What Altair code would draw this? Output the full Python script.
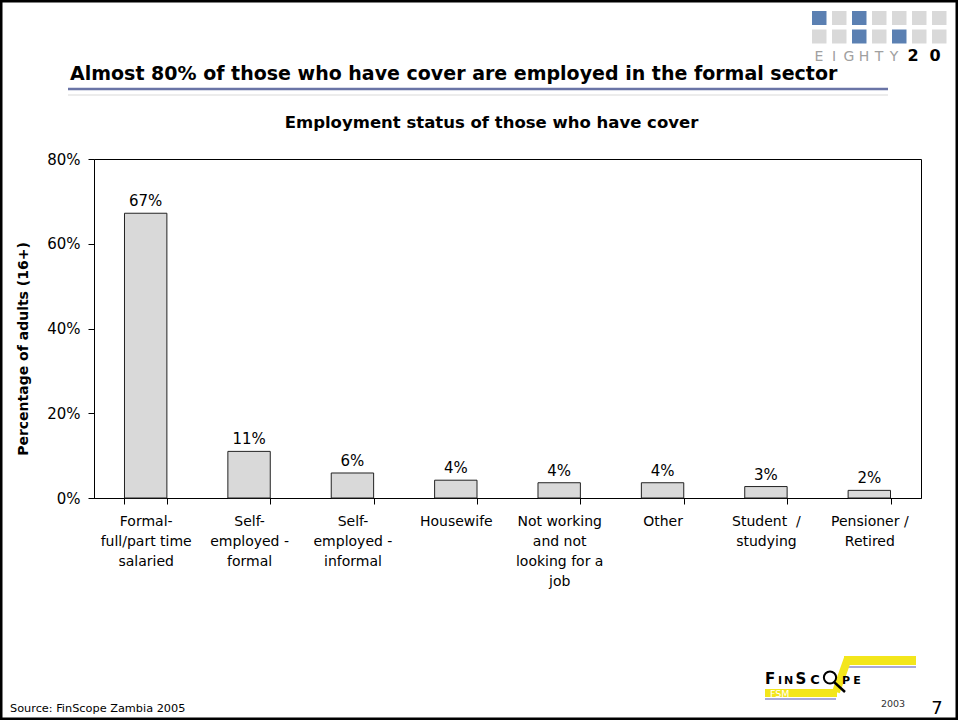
import altair as alt
import pandas as pd

# ---------------- data ----------------
categories = [
    "Formal-\nfull/part time\nsalaried",
    "Self-\nemployed -\nformal",
    "Self-\nemployed -\ninformal",
    "Housewife",
    "Not working\nand not\nlooking for a\njob",
    "Other",
    "Student\u00a0\u00a0/\nstudying",
    "Pensioner /\nRetired",
]
values = [67.2, 11.0, 5.9, 4.2, 3.6, 3.6, 2.7, 1.8]
y_ticks = [0, 20, 40, 60, 80]

title_text = "Almost 80% of those who have cover are employed in the formal sector"
chart_title = "Employment status of those who have cover"
y_title = "Percentage of adults (16+)"
source_text = "Source: FinScope Zambia 2005"

FONT = "DejaVu Sans"
OX, OY = 94, 159          # plot origin in page pixels
W, H = 827, 339

df = pd.DataFrame({"category": categories, "value": values})
dummy = pd.DataFrame({"d": [0]})


def vx(x):
    return alt.value(x - OX)


def vy(y):
    return alt.value(y - OY)


def text(s, x, y, size, weight="normal", color="black", align="left",
         baseline="alphabetic", angle=0):
    return alt.Chart(dummy).mark_text(
        text=s, fontSize=size, fontWeight=weight, color=color, align=align,
        baseline=baseline, angle=angle, font=FONT
    ).encode(x=vx(x), y=vy(y))


def rect(x1, y1, x2, y2, fill, **kw):
    return alt.Chart(dummy).mark_rect(fill=fill, **kw).encode(
        x=vx(x1), x2=vx(x2), y=vy(y1), y2=vy(y2))


def rule(x1, y1, x2, y2, color, width):
    return alt.Chart(dummy).mark_rule(color=color, strokeWidth=width).encode(
        x=vx(x1), x2=vx(x2), y=vy(y1), y2=vy(y2))


layers = []

# outer border
layers.append(rect(1.25, 1.25, 956.75, 718.75, "white", fillOpacity=0,
                   stroke="black", strokeWidth=2.5))

# EIGHTY20 logo squares
BLUE, GREY = "#5b80b2", "#d9d9d9"
top_blue = {0, 2}
bot_blue = {2, 4}
for i in range(7):
    x0 = 812 + 20 * i
    layers.append(rect(x0, 11, x0 + 14.5, 25, BLUE if i in top_blue else GREY))
    layers.append(rect(x0, 29.5, x0 + 14.5, 43.5, BLUE if i in bot_blue else GREY))
for i, ch in enumerate("EIGHTY"):
    layers.append(text(ch, 819 + 15 * i, 60.5, 14, color="#a0a0a0",
                       align="center"))
layers.append(text("2", 913, 60.5, 16, weight="bold", align="center"))
layers.append(text("0", 935, 60.5, 16, weight="bold", align="center"))

# main title and underline
layers.append(text(title_text, 70, 80, 19, weight="bold"))
layers.append(rule(68, 89, 888, 89, "#6a74a6", 2.5))
layers.append(rule(68, 95, 888, 95, "#ececec", 2))

# chart title
layers.append(text(chart_title, 491.5, 128, 16.5, weight="bold", align="center"))

# y axis title
layers.append(text(y_title, 28, 349, 14, weight="bold", align="center",
                   angle=270))

# source
layers.append(text(source_text, 10, 712, 11.3))

# FinScope logo (approximation)
YEL = "#f3e61c"
LBL = "#8c8ccc"
layers.append(rect(844, 656, 916, 665, YEL))
layers.append(rule(842, 667, 916, 667, LBL, 1.5))
layers.append(rule(848, 658, 836, 692, YEL, 8))
layers.append(rect(765, 689, 837, 697, YEL))
layers.append(rule(765, 699, 836, 699, LBL, 1.5))
layers.append(text("FSM", 770, 697, 9.5, color="white"))
for ch, x, s in [("F", 770, 15), ("I", 780, 11), ("N", 788.5, 11),
                 ("S", 801, 15), ("C", 815, 13), ("P", 846, 11), ("E", 857, 11)]:
    layers.append(text(ch, x, 683.5, s, weight="bold", align="center"))
layers.append(rule(834, 682, 845, 692, "black", 2.5))
layers.append(alt.Chart(dummy).mark_point(
    shape="circle", size=150, filled=True, fill="white", stroke="black",
    strokeWidth=2, opacity=1).encode(x=vx(830), y=vy(677.5)))

# page footer
layers.append(text("2003", 893, 707, 9.5, color="#333333", align="center"))
layers.append(text("7", 937, 714, 18, align="center"))

# ---------------- bars ----------------
x_enc = alt.X(
    "category:N", sort=None,
    scale=alt.Scale(paddingInner=0.59, paddingOuter=0.295),
    axis=alt.Axis(
        title=None, labelAngle=0, labelExpr="split(datum.label, '\\n')",
        labelFontSize=14, labelLineHeight=20, labelPadding=10,
        labelBaseline="top", labelLimit=0, labelColor="black",
        labelFont=FONT, tickBand="extent", tickSize=6, tickColor="black",
        domainColor="black", labelOverlap=False,
    ),
)
y_enc = alt.Y(
    "value:Q",
    scale=alt.Scale(domain=[0, 80], nice=False),
    axis=alt.Axis(
        title=None, values=y_ticks, labelExpr="datum.value + '%'", grid=False,
        tickSize=6, labelPadding=8, labelFontSize=15, labelColor="black",
        labelFont=FONT, tickColor="black", domainColor="black",
    ),
)

bars = alt.Chart(df).mark_bar(
    fill="#d9d9d9", stroke="#222222", strokeWidth=1
).encode(x=x_enc, y=y_enc)

labels = alt.Chart(df).transform_calculate(
    label="format(datum.value, '.0f') + '%'"
).mark_text(
    dy=-7, baseline="alphabetic", fontSize=15, font=FONT, color="black"
).encode(x=alt.X("category:N", sort=None), y="value:Q", text="label:N")

layers.append(bars)
layers.append(labels)

chart = alt.layer(*layers).properties(
    width=W, height=H,
    autosize=alt.AutoSizeParams(type="none"),
    padding={"left": OX, "top": OY, "right": 958 - OX - W,
             "bottom": 720 - OY - H},
    background="white",
).configure_view(stroke="black", strokeWidth=1)

chart.save("out.html", embed_options={"renderer": "svg", "actions": False})
